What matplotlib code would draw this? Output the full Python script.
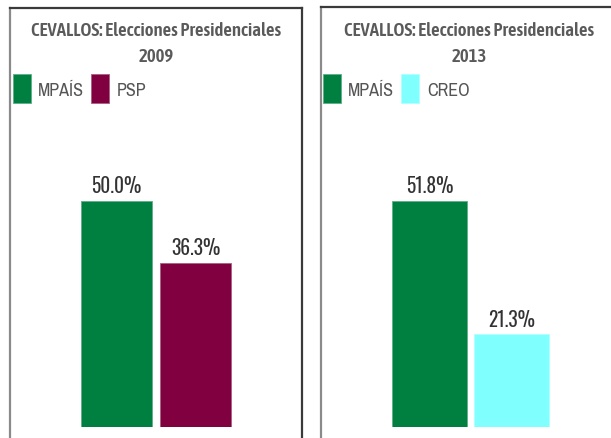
import matplotlib
matplotlib.use("Agg")
import matplotlib.pyplot as plt
from matplotlib.patches import Rectangle
from matplotlib.lines import Line2D
from matplotlib import font_manager as fm

title_text = "CEVALLOS: Elecciones Presidenciales"
years = ["2009", "2013"]
parties_2009 = ["MPAÍS", "PSP"]
values_2009 = [50.0, 36.3]
colors_2009 = ["#008040", "#800040"]
parties_2013 = ["MPAÍS", "CREO"]
values_2013 = [51.8, 21.3]
colors_2013 = ["#008040", "#80FFFF"]

W, H = 611, 439
fig = plt.figure(figsize=(W / 100, H / 100), dpi=100)
fig.patch.set_facecolor("white")

installed = {f.name for f in fm.fontManager.ttflist}


def pick(cands):
    for c in cands:
        if c in installed:
            return [c, "DejaVu Sans"]
    return ["DejaVu Sans"]


TITLE_FONT = pick(["Asap Condensed", "Barlow Semi Condensed"])
LEG_FONT = pick(["Archivo Narrow", "Barlow Condensed"])
LABEL_FONT = pick(["Oswald", "Roboto Condensed", "Barlow Condensed"])
TITLE_COLOR = "#5a5a5a"
TEXT_COLOR = "#555555"


def fx(px):
    return px / W


def fy(py):
    return 1 - py / H


panels = [
    dict(x0=10, x1=302, top=9, title_cx=156, year=years[0], parties=parties_2009,
         values=values_2009, colors=colors_2009, c0=116.5, spacing=79, barw=71,
         leg=[(13, 38), (91, 117)]),
    dict(x0=321, x1=640, top=8, title_cx=469, year=years[1], parties=parties_2013,
         values=values_2013, colors=colors_2013, c0=429.5, spacing=82, barw=75,
         leg=[(323, 348), (401, 427)]),
]

base_y = 428
ax_top = 150
max_bar_px = 226
edge_map = {"#008040": "#5fae86", "#80FFFF": "#b0ffff", "#800040": "#a8607f"}

for p in panels:
    x0, x1, top = p["x0"], p["x1"], p["top"]
    fig.add_artist(Line2D([fx(x0), fx(x0)], [fy(H + 5), fy(top)], color="#8a8a8a", lw=1.6, transform=fig.transFigure))
    fig.add_artist(Line2D([fx(x0), fx(x1)], [fy(top), fy(top)], color="#3a3a3a", lw=1.6, transform=fig.transFigure))
    fig.add_artist(Line2D([fx(x1), fx(x1)], [fy(top), fy(H + 5)], color="#3a3a3a", lw=1.6, transform=fig.transFigure))

    fig.text(fx(p["title_cx"]), fy(31), title_text, ha="center", va="center",
             family=TITLE_FONT, fontweight=600, fontsize=13.5, color=TITLE_COLOR)
    fig.text(fx(p["title_cx"]), fy(57), p["year"], ha="center", va="center",
             family=TITLE_FONT, fontweight=600, fontsize=13.5, color=TITLE_COLOR)

    for (sx, tx), name, col in zip(p["leg"], p["parties"], p["colors"]):
        fig.add_artist(Rectangle((fx(sx), fy(104)), fx(18), 29 / H, transform=fig.transFigure,
                                 facecolor=col, edgecolor=edge_map[col], lw=0.6))
        fig.text(fx(tx), fy(91), name, ha="left", va="center", family=LEG_FONT,
                 fontsize=13, color=TEXT_COLOR)

    ax_w_px = min(x1, W) - x0
    ax = fig.add_axes([fx(x0), fy(base_y), ax_w_px / W, (base_y - ax_top) / H])
    ax.set_axis_off()
    sp = p["spacing"]
    left = -(p["c0"] - x0) / sp
    ax.set_xlim(left, left + ax_w_px / sp)
    vmax = max(p["values"])
    ax.set_ylim(0, vmax * (base_y - ax_top) / max_bar_px)
    xs = list(range(len(p["values"])))
    ax.bar(xs, p["values"], width=p["barw"] / sp, color=p["colors"],
           edgecolor=[edge_map[c] for c in p["colors"]], linewidth=0.6)
    for x, v in zip(xs, p["values"]):
        ax.annotate(f"{v:.1f}%", (x, v), xytext=(0, 4), textcoords="offset points",
                    ha="center", va="bottom", family=LABEL_FONT, fontweight="bold",
                    fontsize=14, color="#333333")

fig.savefig("out.png", dpi=100, facecolor="white")
